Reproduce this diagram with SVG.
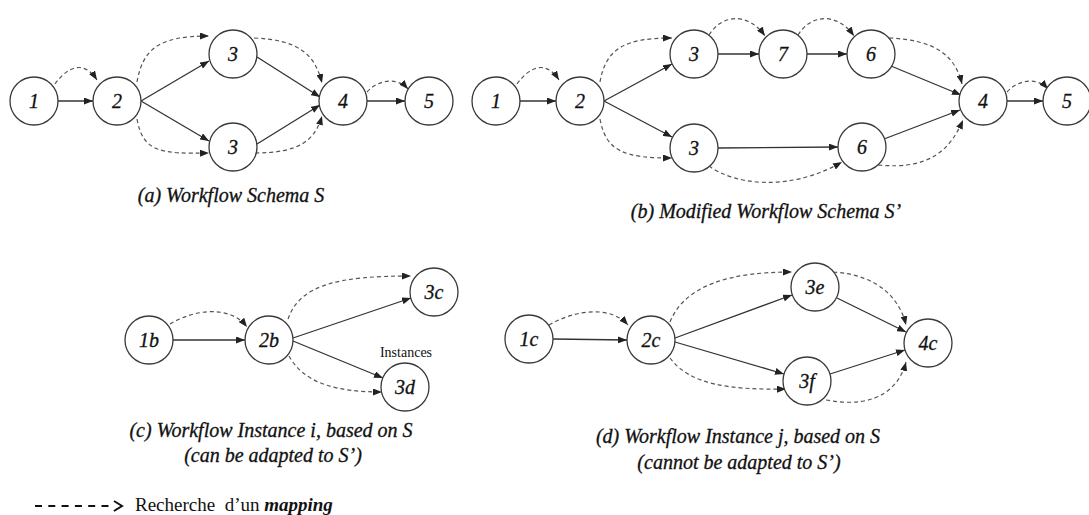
<svg xmlns="http://www.w3.org/2000/svg" width="1089" height="515" viewBox="0 0 1089 515">
<style>
.n circle{fill:#fff;stroke:#3a3a3a;stroke-width:1.3}
.n text{font-family:"Liberation Serif",serif;font-style:italic;font-size:20px;fill:#111;stroke:#111;stroke-width:0.3;text-anchor:middle}
.s{fill:none;stroke:#333;stroke-width:1.3;marker-end:url(#ah)}
.d{fill:none;stroke:#555;stroke-width:1.2;stroke-dasharray:4 3;marker-end:url(#ah)}
.cap{font-family:"Liberation Serif",serif;font-style:italic;font-size:20px;fill:#111;stroke:#111;stroke-width:0.3;text-anchor:middle}
</style>
<defs>
<marker id="ah" markerUnits="userSpaceOnUse" markerWidth="9" markerHeight="7" refX="9" refY="3.5" orient="auto">
<path d="M0,0 L9,3.5 L0,7 z" fill="#222"/>
</marker>
</defs>
<rect width="1089" height="515" fill="#fff"/>

<g id="connectors">
<!-- panel a -->
<path class="s" d="M58,101 L93,101"/>
<path class="s" d="M141,101 L209,61"/>
<path class="s" d="M141,101 L209,141"/>
<path class="s" d="M257,57 L320,97"/>
<path class="s" d="M257,144 L320,105"/>
<path class="s" d="M367,101 L405,101"/>
<path class="d" d="M55,84 C68,66 84,60 97,80"/>
<path class="d" d="M137,82 C143,48 160,36 209,36"/>
<path class="d" d="M137,119 C143,152 160,154 209,153"/>
<path class="d" d="M254,38 C300,40 315,55 322,83"/>
<path class="d" d="M255,153 C300,153 315,140 322,116"/>
<path class="d" d="M367,92 C380,78 398,78 408,89"/>
<!-- panel b -->
<path class="s" d="M520,101 L556,101"/>
<path class="s" d="M604,101 L672,64"/>
<path class="s" d="M604,101 L672,137"/>
<path class="s" d="M718,54 L759,54"/>
<path class="s" d="M807,54 L847,54"/>
<path class="s" d="M891,66 L961,95"/>
<path class="s" d="M718,148 L838,147"/>
<path class="s" d="M884,139 L960,110"/>
<path class="s" d="M1007,101 L1043,101"/>
<path class="d" d="M517,84 C530,66 546,60 559,80"/>
<path class="d" d="M600,82 C606,48 625,38 672,38"/>
<path class="d" d="M600,119 C606,152 625,158 672,158"/>
<path class="d" d="M709,35 C722,14 748,12 765,36"/>
<path class="d" d="M798,35 C811,14 837,12 854,36"/>
<path class="d" d="M889,38 C935,40 955,55 962,84"/>
<path class="d" d="M709,166 C735,185 790,192 842,162"/>
<path class="d" d="M878,165 C930,170 950,150 963,120"/>
<path class="d" d="M1007,92 C1020,78 1038,78 1048,89"/>
<!-- panel c -->
<path class="s" d="M173,340 L245,340"/>
<path class="s" d="M293,338 L411,298"/>
<path class="s" d="M293,341 L383,378"/>
<path class="d" d="M170,324 C195,309 230,305 247,327"/>
<path class="d" d="M288,319 C300,284 340,276 411,276"/>
<path class="d" d="M289,356 C305,385 340,392 382,392"/>
<!-- panel d -->
<path class="s" d="M553,339 L627,340"/>
<path class="s" d="M675,338 L792,295"/>
<path class="s" d="M675,342 L784,374"/>
<path class="s" d="M837,298 L906,332"/>
<path class="s" d="M830,374 L905,350"/>
<path class="d" d="M549,325 C575,310 610,305 628,325"/>
<path class="d" d="M670,322 C685,285 730,272 792,272"/>
<path class="d" d="M670,358 C690,385 730,390 786,389"/>
<path class="d" d="M833,272 C880,275 900,300 906,325"/>
<path class="d" d="M826,400 C880,410 900,385 906,362"/>
</g>

<!-- panel a nodes -->
<g id="a1" class="n"><circle cx="34" cy="101" r="24"/><text x="34" y="108">1</text></g>
<g id="a2" class="n"><circle cx="117" cy="101" r="24"/><text x="117" y="108">2</text></g>
<g id="a3t" class="n"><circle cx="233" cy="54" r="24"/><text x="233" y="61">3</text></g>
<g id="a3b" class="n"><circle cx="233" cy="147" r="24"/><text x="233" y="154">3</text></g>
<g id="a4" class="n"><circle cx="343" cy="101" r="24"/><text x="343" y="108">4</text></g>
<g id="a5" class="n"><circle cx="429" cy="101" r="24"/><text x="429" y="108">5</text></g>

<!-- panel b nodes -->
<g id="b1" class="n"><circle cx="496" cy="101" r="24"/><text x="496" y="108">1</text></g>
<g id="b2" class="n"><circle cx="580" cy="101" r="24"/><text x="580" y="108">2</text></g>
<g id="b3t" class="n"><circle cx="694" cy="54" r="24"/><text x="694" y="61">3</text></g>
<g id="b7" class="n"><circle cx="783" cy="54" r="24"/><text x="783" y="61">7</text></g>
<g id="b6t" class="n"><circle cx="871" cy="54" r="24"/><text x="871" y="61">6</text></g>
<g id="b3b" class="n"><circle cx="694" cy="148" r="24"/><text x="694" y="155">3</text></g>
<g id="b6b" class="n"><circle cx="862" cy="147" r="24"/><text x="862" y="154">6</text></g>
<g id="b4" class="n"><circle cx="983" cy="101" r="24"/><text x="983" y="108">4</text></g>
<g id="b5" class="n"><circle cx="1067" cy="101" r="24"/><text x="1067" y="108">5</text></g>

<!-- panel c nodes -->
<g id="c1b" class="n"><circle cx="149" cy="340" r="24"/><text x="149" y="347">1b</text></g>
<g id="c2b" class="n"><circle cx="269" cy="340" r="24"/><text x="269" y="347">2b</text></g>
<g id="c3c" class="n"><circle cx="434" cy="292" r="24"/><text x="434" y="299">3c</text></g>
<g id="c3d" class="n"><circle cx="405" cy="387" r="24"/><text x="405" y="394">3d</text></g>
<text x="406" y="357" font-family="Liberation Serif, serif" font-size="14" fill="#111" text-anchor="middle">Instances</text>

<!-- panel d nodes -->
<g id="d1c" class="n"><circle cx="529" cy="339" r="24"/><text x="529" y="346">1c</text></g>
<g id="d2c" class="n"><circle cx="651" cy="340" r="24"/><text x="651" y="347">2c</text></g>
<g id="d3e" class="n"><circle cx="815" cy="287" r="24"/><text x="815" y="294">3e</text></g>
<g id="d3f" class="n"><circle cx="807" cy="381" r="24"/><text x="807" y="388">3f</text></g>
<g id="d4c" class="n"><circle cx="928" cy="343" r="24"/><text x="928" y="350">4c</text></g>

<!-- captions -->
<text class="cap" x="231" y="202">(a) Workflow Schema S</text>
<text class="cap" x="766" y="218">(b) Modified Workflow Schema S’</text>
<text class="cap" x="271" y="437">(c) Workflow Instance i, based on S</text>
<text class="cap" x="273" y="462">(can be adapted to S’)</text>
<text class="cap" x="738" y="443">(d) Workflow Instance j, based on S</text>
<text class="cap" x="739" y="469">(cannot be adapted to S’)</text>

<!-- legend -->
<g id="legend">
<line x1="35" y1="506" x2="109" y2="506" stroke="#111" stroke-width="2" stroke-dasharray="7 6.3"/>
<polyline points="114,501 122,506 114,511" fill="none" stroke="#111" stroke-width="2"/>
<text x="135" y="511" font-family="Liberation Serif, serif" font-size="19" fill="#111">Recherche&#160; d’un <tspan font-weight="bold" font-style="italic">mapping</tspan></text>
</g>
</svg>
